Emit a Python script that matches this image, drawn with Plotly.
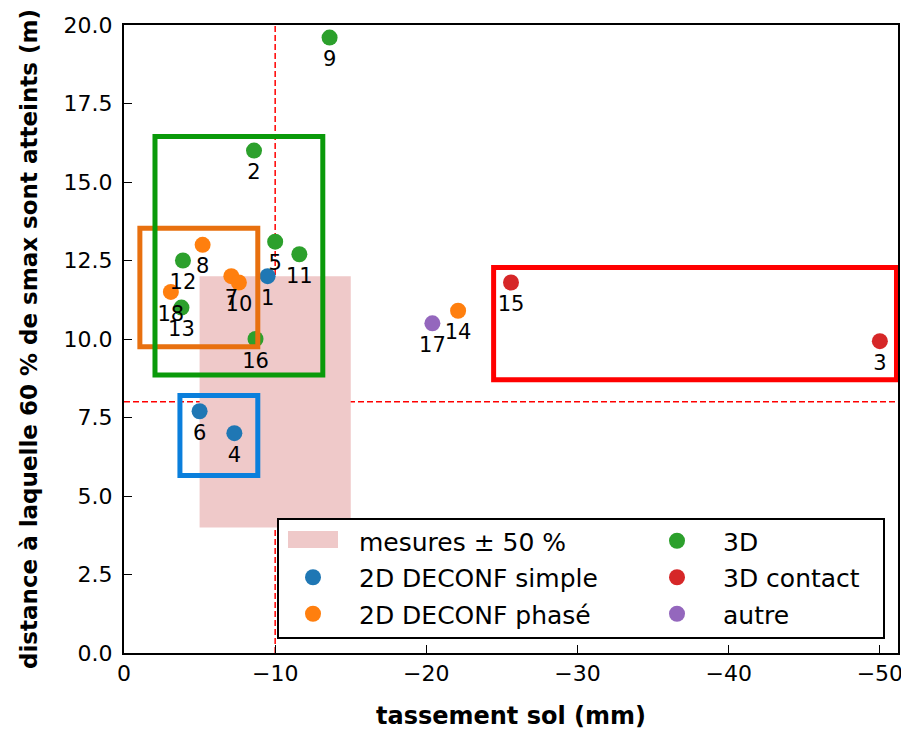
import plotly.graph_objects as go

# ---- data ----
categories = ["2D DECONF simple", "2D DECONF phasé", "3D", "3D contact", "autre"]
cat_colors = ["#1f77b4", "#ff7f0e", "#2ca02c", "#d62728", "#9467bd"]

ids = ["1", "2", "3", "4", "5", "6", "7", "8", "9", "10",
       "11", "12", "13", "14", "15", "16", "17", "18"]
tassement = [-9.5, -8.6, -50.0, -7.3, -10.0, -5.0, -7.1, -5.2, -13.6, -7.6,
             -11.6, -3.9, -3.8, -22.1, -25.6, -8.7, -20.4, -3.1]
distance = [12.0, 16.0, 9.93, 7.0, 13.1, 7.7, 12.0, 13.0, 19.6, 11.8,
            12.7, 12.5, 11.0, 10.9, 11.8, 10.0, 10.5, 11.5]
category = ["2D DECONF simple", "3D", "3D contact", "2D DECONF simple", "3D",
            "2D DECONF simple", "2D DECONF phasé", "2D DECONF phasé", "3D", "2D DECONF phasé",
            "3D", "3D", "3D", "2D DECONF phasé", "3D contact", "3D", "autre", "2D DECONF phasé"]

ref_tassement = -10.0
ref_distance = 8.0
tolerance = 0.5

# group boxes: (x0, x1, y0, y1, colour), drawn in this order
boxes = [
    (-1.05, -8.85, 9.75, 13.53, "#e8700f"),
    (-2.05, -13.15, 8.85, 16.45, "#0a9a0a"),
    (-3.7, -8.85, 5.65, 8.2, "#0a7fdc"),
    (-24.45, -51.1, 8.7, 12.28, "#ff0000"),
]

fig = go.Figure()

# measurement +/- 50 % area
fig.add_shape(type="rect", xref="x", yref="y",
              x0=ref_tassement * (1 - tolerance), x1=ref_tassement * (1 + tolerance),
              y0=ref_distance * (1 - tolerance), y1=ref_distance * (1 + tolerance),
              fillcolor="#efc9c9", line_width=0, layer="below")
# dashed reference lines
fig.add_shape(type="line", xref="x", yref="paper", x0=ref_tassement, x1=ref_tassement,
              y0=0, y1=1, line=dict(color="#ff0000", width=1.5, dash="6px,3px"), layer="below")
fig.add_shape(type="line", xref="paper", yref="y", x0=0, x1=1,
              y0=ref_distance, y1=ref_distance,
              line=dict(color="#ff0000", width=1.5, dash="6px,3px"), layer="below")

for (x0, x1, y0, y1, col) in boxes:
    fig.add_shape(type="rect", xref="x", yref="y", x0=x0, x1=x1, y0=y0, y1=y1,
                  line=dict(color=col, width=5), fillcolor="rgba(0,0,0,0)", layer="above")

# plot area in the picture (pixels) and page offset of the figure
PL, PR, PT, PB = 124, 898, 25, 653
OFF = 8
def px(xp):
    return (xp - PL) / (PR - PL)
def py(yp):
    return (PB - yp) / (PB - PT)

# legend frame and patch
fig.add_shape(type="rect", xref="paper", yref="paper", x0=px(278), x1=px(884), y0=py(638), y1=py(519),
              line=dict(color="black", width=2), fillcolor="white", layer="above")
fig.add_shape(type="rect", xref="paper", yref="paper", x0=px(288), x1=px(338), y0=py(548), y1=py(531),
              line_width=0, fillcolor="#efc9c9", layer="above")

# dummy legend entry for the measurement area
fig.add_trace(go.Scatter(x=[None], y=[None], mode="markers", name="mesures ± 50 %",
                         marker=dict(color="rgba(0,0,0,0)", size=1),
                         legend="legend", legendgroup="g0", showlegend=True))

legend_of = {"2D DECONF simple": "legend", "2D DECONF phasé": "legend",
             "3D": "legend2", "3D contact": "legend2", "autre": "legend2"}

for i, (cat, col) in enumerate(zip(categories, cat_colors)):
    xs = [x for x, c in zip(tassement, category) if c == cat]
    ys = [y for y, c in zip(distance, category) if c == cat]
    fig.add_trace(go.Scatter(
        x=xs, y=ys, mode="markers",
        marker=dict(color=col, size=16, line_width=0),
        name=cat, legend=legend_of[cat], legendgroup="g%d" % (i + 1),
        cliponaxis=False,
    ))

# point labels below each point
fig.add_trace(go.Scatter(
    x=tassement, y=distance, text=ids, mode="markers+text", textposition="bottom center",
    textfont=dict(family="DejaVu Sans", size=21, color="black"),
    marker=dict(color="rgba(0,0,0,0)", size=19, line_width=0),
    showlegend=False, hoverinfo="skip", cliponaxis=False,
))

legend_common = dict(bgcolor="rgba(0,0,0,0)", borderwidth=0,
                     font=dict(family="DejaVu Sans", size=25, color="black"),
                     itemwidth=82, tracegroupgap=1, traceorder="grouped",
                     xanchor="left", yanchor="top", itemclick=False)

fig.update_layout(
    width=909, height=729,
    margin=dict(l=PL - OFF, r=909 - (PR - OFF), t=PT - OFF, b=729 - (PB - OFF)),
    plot_bgcolor="white", paper_bgcolor="white",
    showlegend=True,
    legend=dict(x=px(313 - 46), y=py(518), **legend_common),
    legend2=dict(x=px(677 - 46), y=py(518), **legend_common),
    xaxis=dict(range=[0, -51.2], tickvals=[0, -10, -20, -30, -40, -50],
               ticktext=["0", "−10", "−20", "−30", "−40", "−50"],
               ticks="inside", ticklen=8, tickwidth=1.3, tickcolor="black",
               showline=True, linecolor="black", linewidth=2, mirror=True,
               showgrid=False, zeroline=False, automargin=False,
               tickfont=dict(family="DejaVu Sans", size=22, color="black"),
               title=dict(text="tassement sol (mm)", standoff=22,
                          font=dict(family="DejaVu Sans", size=24, color="black", weight="bold"))),
    yaxis=dict(range=[0, 20], tickvals=[0, 2.5, 5, 7.5, 10, 12.5, 15, 17.5, 20],
               ticktext=["0.0", "2.5", "5.0", "7.5", "10.0", "12.5", "15.0", "17.5", "20.0"],
               ticks="inside", ticklen=8, tickwidth=1.3, tickcolor="black",
               showline=True, linecolor="black", linewidth=2, mirror=True,
               showgrid=False, zeroline=False, automargin=False, ticklabelstandoff=5,
               tickfont=dict(family="DejaVu Sans", size=22, color="black"),
               title=dict(text="distance à laquelle 60 % de smax sont atteints (m)", standoff=20,
                          font=dict(family="DejaVu Sans", size=23, color="black", weight="bold"))),
)

fig.write_html("out.html")
